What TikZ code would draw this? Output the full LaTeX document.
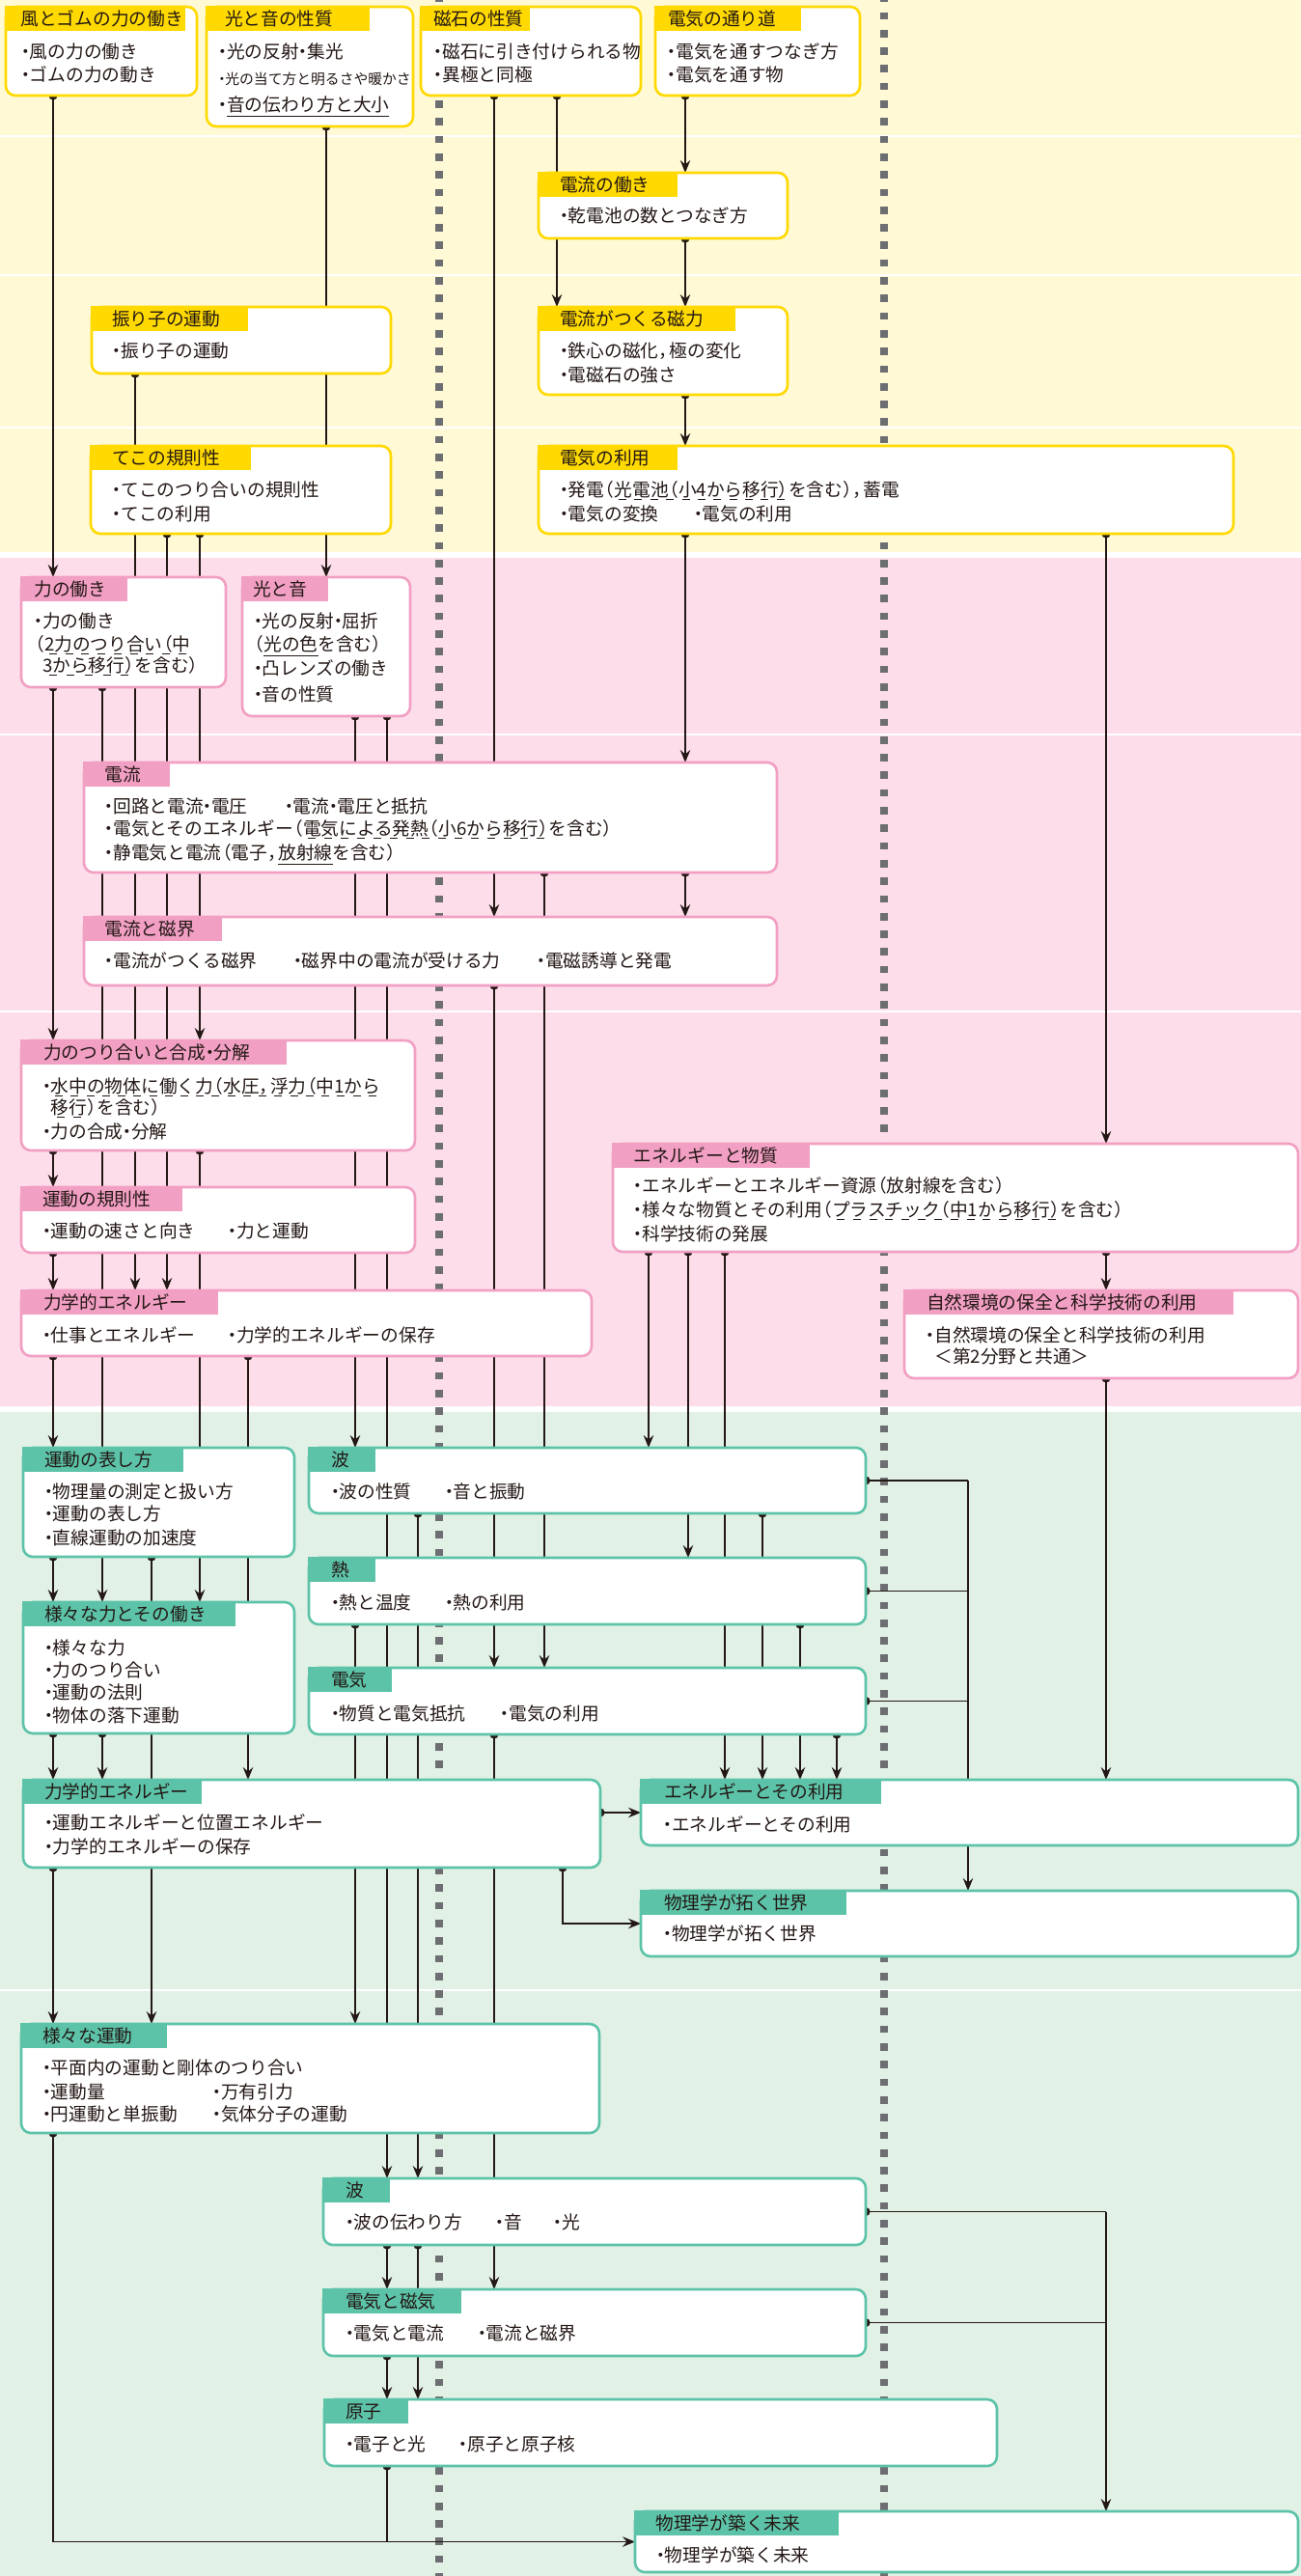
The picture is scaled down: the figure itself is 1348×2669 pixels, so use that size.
\documentclass[tikz,border=0pt]{standalone}
\usepackage{fontspec}
\setmainfont{Noto Sans CJK JP}
\usetikzlibrary{arrows.meta}
\pgfdeclarelayer{bgl}
\pgfdeclarelayer{cnl}
\pgfsetlayers{bgl,cnl,main}
\definecolor{ink}{HTML}{231815}
\definecolor{ybg}{HTML}{FFF9D6}
\definecolor{yel}{HTML}{FFD900}
\definecolor{pbg}{HTML}{FCDDE9}
\definecolor{pnk}{HTML}{F29FC4}
\definecolor{gbg}{HTML}{E1F1E6}
\definecolor{grn}{HTML}{5CC3A8}
\definecolor{dgray}{HTML}{6D6E71}
\newsavebox\iulbox
\newcommand\idul[1]{\sbox\iulbox{#1}\rlap{\hbox to \wd\iulbox{\xleaders\hbox to 16pt{\hss\vrule width 8pt height -3.2pt depth 4.3pt\hss}\hfill}}\usebox\iulbox}
\newcommand\isul[1]{\sbox\iulbox{#1}\rlap{\vrule width \wd\iulbox height -4.6pt depth 5.8pt}\usebox\iulbox}
\newcommand\ibu{\makebox[0.45em][c]{・}}
\newcommand\ilp{\makebox[0.55em][r]{（}}
\newcommand\irp{\makebox[0.55em][l]{）}}
\newcommand\icm{\makebox[0.6em][l]{，}}
\tikzset{
 bx/.style={draw=#1, line width=2.6pt, fill=white, rounded corners=10pt, inner sep=0pt, outer sep=0pt, anchor=north west},
 tx/.style={inner sep=0pt, outer sep=0pt, anchor=base west, text=ink, font=\fontsize{18.7}{22}\selectfont},
 sm/.style={tx, font=\fontsize{14.8}{18}\selectfont},
 cn/.style={draw=ink, line width=1.2pt, -{Stealth[length=13pt, width=10.5pt, inset=4.5pt]}},
 cl/.style={draw=ink, line width=1.2pt},
 dsh/.style={draw=dgray, line width=7.7pt, dash pattern=on 7.7pt off 10.6pt},
 sepl/.style={draw=white, line width=2.5pt},
}
\newcommand\bx[7]{%
 \node[bx=#2, minimum width={#5pt-#3pt}, minimum height={#6pt-#4pt}] (#1) at (#3,#4) {};
 \fill[#2] ({#3-1.3},{#4-1.3}) rectangle (#7,{#4+25});}
\newcommand\ttl[4]{\node[tx] (#1t) at (#2,{#3+19.5}) {#4};}
\newcommand\vd[3]{%
 \fill[ink] (#1,0 |- #2.south) circle[radius=4.6];
 \draw[cn] (#1,0 |- #2.south) -- (#1,0 |- #3.north);}
\begin{document}
\begin{tikzpicture}[x=1pt,y=-1pt]
\useasboundingbox (0,0) rectangle (1348,2669);
\begin{pgfonlayer}{bgl}
\fill[white] (0,0) rectangle (1348,2669);
\fill[ybg] (0,0) rectangle (1348,572);
\fill[pbg] (0,578) rectangle (1348,1457);
\fill[gbg] (0,1463) rectangle (1348,2669);
\foreach \yy in {141,285,443,761,1048,2062} {\draw[sepl] (0,\yy) -- (1348,\yy);}
\draw[dsh] (455,-5.8) -- (455,2680);
\draw[dsh] (916,-5.8) -- (916,2680);
\end{pgfonlayer}
% yellow boxes
\bx{A}{yel}{6}{7}{204}{99}{192}
\bx{B}{yel}{214}{7}{428}{131}{383}
\bx{C}{yel}{436}{7}{664}{99}{549}
\bx{D}{yel}{679}{7}{891}{99}{830}
\bx{E}{yel}{558}{179}{816}{247}{702}
\bx{F}{yel}{558}{318}{816}{409}{762}
\bx{G}{yel}{95}{318}{405}{387}{257}
\bx{H}{yel}{94}{462}{405}{553}{260}
\bx{I}{yel}{558}{462}{1278}{553}{702}
% pink boxes
\bx{J}{pnk}{22}{598}{234}{712}{132}
\bx{K}{pnk}{251}{598}{425}{742}{340}
\bx{L}{pnk}{87}{790}{805}{904}{176}
\bx{M}{pnk}{87}{950}{805}{1021}{230}
\bx{N}{pnk}{22}{1078}{430}{1192}{297}
\bx{O}{pnk}{22}{1230}{430}{1298}{189}
\bx{P}{pnk}{22}{1337}{613}{1405}{226}
\bx{Y}{pnk}{635}{1185}{1345}{1297}{839}
\bx{Z}{pnk}{937}{1337}{1345}{1428}{1278}
% green boxes
\bx{Q}{grn}{24}{1500}{305}{1613}{190}
\bx{R}{grn}{24}{1660}{305}{1796}{244}
\bx{S}{grn}{24}{1844}{622}{1935}{209}
\bx{T}{grn}{22}{2097}{621}{2210}{173}
\bx{W1}{grn}{320}{1500}{897}{1568}{389}
\bx{W2}{grn}{320}{1614}{897}{1683}{389}
\bx{W3}{grn}{320}{1728}{897}{1797}{406}
\bx{U}{grn}{664}{1844}{1345}{1912}{913}
\bx{V}{grn}{664}{1959}{1345}{2027}{877}
\bx{W4}{grn}{335}{2257}{897}{2326}{404}
\bx{X2}{grn}{335}{2372}{897}{2441}{478}
\bx{AB}{grn}{336}{2486}{1033}{2555}{423}
\bx{AA}{grn}{658}{2602}{1345}{2665}{869}
% titles
\ttl{A}{21.5}{7}{風とゴムの力の働き}
\ttl{B}{233}{7}{光と音の性質}
\ttl{C}{449}{7}{磁石の性質}
\ttl{D}{692}{7}{電気の通り道}
\ttl{E}{580}{179}{電流の働き}
\ttl{F}{580}{318}{電流がつくる磁力}
\ttl{G}{116}{318}{振り子の運動}
\ttl{H}{116}{462}{てこの規則性}
\ttl{I}{580}{462}{電気の利用}
\ttl{J}{35.5}{598}{力の働き}
\ttl{K}{262}{598}{光と音}
\ttl{L}{108.5}{790}{電流}
\ttl{M}{108.5}{950}{電流と磁界}
\ttl{N}{45}{1078}{力のつり合いと合成\ibu 分解}
\ttl{O}{44}{1230}{運動の規則性}
\ttl{P}{45}{1337}{力学的エネルギー}
\ttl{Y}{656.5}{1185}{エネルギーと物質}
\ttl{Z}{960}{1337}{自然環境の保全と科学技術の利用}
\ttl{Q}{46}{1500}{運動の表し方}
\ttl{R}{46}{1660}{様々な力とその働き}
\ttl{S}{46}{1844}{力学的エネルギー}
\ttl{T}{44}{2097}{様々な運動}
\ttl{W1}{343}{1500}{波}
\ttl{W2}{343}{1614}{熱}
\ttl{W3}{343}{1728}{電気}
\ttl{U}{688}{1844}{エネルギーとその利用}
\ttl{V}{688}{1959}{物理学が拓く世界}
\ttl{W4}{358}{2257}{波}
\ttl{X2}{358}{2372}{電気と磁気}
\ttl{AB}{358}{2486}{原子}
\ttl{AA}{679.5}{2602}{物理学が築く未来}
% body texts
\node[tx] (A1) at (22.5,60) {\ibu 風の力の働き};
\node[tx] (A2) at (22.5,84) {\ibu ゴムの力の動き};
\node[tx] (B1) at (226.7,60) {\ibu 光の反射\ibu 集光};
\node[sm] (B2) at (226.7,87.6) {\ibu 光の当て方と明るさや暖かさ};
\node[tx] (B3) at (226.7,115) {\ibu\isul{音の伝わり方と大小}};
\node[tx] (C1) at (450,60) {\ibu 磁石に引き付けられる物};
\node[tx] (C2) at (450,84) {\ibu 異極と同極};
\node[tx] (D1) at (692,60) {\ibu 電気を通すつなぎ方};
\node[tx] (D2) at (692,84) {\ibu 電気を通す物};
\node[tx] (E1) at (580.5,230) {\ibu 乾電池の数とつなぎ方};
\node[tx] (F1) at (580.5,370) {\ibu 鉄心の磁化\icm 極の変化};
\node[tx] (F2) at (580.5,395) {\ibu 電磁石の強さ};
\node[tx] (G1) at (117,370) {\ibu 振り子の運動};
\node[tx] (H1) at (117,514) {\ibu てこのつり合いの規則性};
\node[tx] (H2) at (117,539) {\ibu てこの利用};
\node[tx] (I1) at (580.5,514) {\ibu 発電\ilp\idul{光電池\ilp 小4から移行\irp}を含む\irp\icm 蓄電};
\node[tx] (I2) at (580.5,539) {\ibu 電気の変換};
\node[tx] (I3) at (719.2,539) {\ibu 電気の利用};
\node[tx] (J1) at (35.8,650) {\ibu 力の働き};
\node[tx] (J2) at (35.8,674) {\ilp\idul{2力のつり合い\ilp 中}};
\node[tx] (J3) at (35.8,696) {\hspace*{0.45em}\idul{3から移行\irp}を含む\irp};
\node[tx] (K1) at (263.2,650) {\ibu 光の反射\ibu 屈折};
\node[tx] (K2) at (263.2,674) {\ilp\isul{光の色}を含む\irp};
\node[tx] (K3) at (263.2,699) {\ibu 凸レンズの働き};
\node[tx] (K4) at (263.2,726) {\ibu 音の性質};
\node[tx] (L1) at (108.9,842) {\ibu 回路と電流\ibu 電圧};
\node[tx] (L1b) at (295.5,842) {\ibu 電流\ibu 電圧と抵抗};
\node[tx] (L2) at (108.9,865) {\ibu 電気とそのエネルギー\ilp\idul{電気による発熱\ilp 小6から移行\irp}を含む\irp};
\node[tx] (L3) at (108.9,890) {\ibu 静電気と電流\ilp 電子\icm\isul{放射線}を含む\irp};
\node[tx] (M1) at (108.9,1002) {\ibu 電流がつくる磁界};
\node[tx] (M2) at (304.5,1002) {\ibu 磁界中の電流が受ける力};
\node[tx] (M3) at (556.8,1002) {\ibu 電磁誘導と発電};
\node[tx] (N1) at (44.4,1132) {\ibu\idul{水中の物体に働く力\ilp 水圧\icm 浮力\ilp 中1から}};
\node[tx] (N2) at (44.4,1154) {\hspace*{0.45em}\idul{移行}\irp を含む\irp};
\node[tx] (N3) at (44.4,1179) {\ibu 力の合成\ibu 分解};
\node[tx] (O1) at (44.4,1282) {\ibu 運動の速さと向き};
\node[tx] (O2) at (236.6,1282) {\ibu 力と運動};
\node[tx] (P1) at (44.4,1390) {\ibu 仕事とエネルギー};
\node[tx] (P2) at (236.6,1390) {\ibu 力学的エネルギーの保存};
\node[tx] (Y1) at (657,1235) {\ibu エネルギーとエネルギー資源\ilp 放射線を含む\irp};
\node[tx] (Y2) at (657,1260) {\ibu 様々な物質とその利用\ilp\idul{プラスチック\ilp 中1から移行\irp}を含む\irp};
\node[tx] (Y3) at (657,1285) {\ibu 科学技術の発展};
\node[tx] (Z1) at (960,1390) {\ibu 自然環境の保全と科学技術の利用};
\node[tx] (Z2) at (960,1412) {\hspace*{0.45em}＜第2分野と共通＞};
\node[tx] (Q1) at (46.5,1552) {\ibu 物理量の測定と扱い方};
\node[tx] (Q2) at (46.5,1575) {\ibu 運動の表し方};
\node[tx] (Q3) at (46.5,1600) {\ibu 直線運動の加速度};
\node[tx] (R1) at (46.5,1714) {\ibu 様々な力};
\node[tx] (R2) at (46.5,1737) {\ibu 力のつり合い};
\node[tx] (R3) at (46.5,1760) {\ibu 運動の法則};
\node[tx] (R4) at (46.5,1784) {\ibu 物体の落下運動};
\node[tx] (S1) at (46.5,1895) {\ibu 運動エネルギーと位置エネルギー};
\node[tx] (S2) at (46.5,1920) {\ibu 力学的エネルギーの保存};
\node[tx] (T1) at (44.4,2149) {\ibu 平面内の運動と剛体のつり合い};
\node[tx] (T2) at (44.4,2174) {\ibu 運動量};
\node[tx] (T2b) at (220.6,2174) {\ibu 万有引力};
\node[tx] (T3) at (44.4,2197) {\ibu 円運動と単振動};
\node[tx] (T3b) at (220.6,2197) {\ibu 気体分子の運動};
\node[tx] (W1a) at (343.2,1552) {\ibu 波の性質};
\node[tx] (W1b) at (461.4,1552) {\ibu 音と振動};
\node[tx] (W2a) at (343.2,1667) {\ibu 熱と温度};
\node[tx] (W2b) at (461.4,1667) {\ibu 熱の利用};
\node[tx] (W3a) at (343.2,1782) {\ibu 物質と電気抵抗};
\node[tx] (W3b) at (519,1782) {\ibu 電気の利用};
\node[tx] (U1) at (687.8,1897) {\ibu エネルギーとその利用};
\node[tx] (V1) at (687.8,2010) {\ibu 物理学が拓く世界};
\node[tx] (W4a) at (358.2,2309) {\ibu 波の伝わり方};
\node[tx] (W4b) at (513.8,2309) {\ibu 音};
\node[tx] (W4c) at (574,2309) {\ibu 光};
\node[tx] (X2a) at (358.2,2424) {\ibu 電気と電流};
\node[tx] (X2b) at (495.4,2424) {\ibu 電流と磁界};
\node[tx] (ABa) at (358.2,2539) {\ibu 電子と光};
\node[tx] (ABb) at (476,2539) {\ibu 原子と原子核};
\node[tx] (AAa) at (680.5,2654) {\ibu 物理学が築く未来};
% connectors
\begin{pgfonlayer}{cnl}
\vd{55}{A}{J}
\vd{338}{B}{K}
\vd{512}{C}{M}
\vd{577}{C}{F}
\vd{710}{D}{E}
\vd{710}{E}{F}
\vd{140}{G}{P}
\vd{710}{F}{I}
\vd{173}{H}{P}
\vd{207}{H}{N}
\vd{710}{I}{L}
\vd{1146}{I}{Y}
\vd{55}{J}{N}
\vd{106}{J}{R}
\vd{368}{K}{W1}
\vd{401}{K}{W4}
\vd{564}{L}{W3}
\vd{710}{L}{M}
\vd{512}{M}{W3}
\vd{55}{N}{O}
\vd{207}{N}{R}
\vd{55}{O}{P}
\vd{55}{P}{Q}
\vd{257}{P}{S}
\vd{1146}{Y}{Z}
\vd{672}{Y}{W1}
\vd{713}{Y}{W2}
\vd{751}{Y}{U}
\vd{1146}{Z}{U}
\vd{55}{Q}{R}
\vd{157}{Q}{T}
\vd{55}{R}{S}
\vd{106}{R}{S}
\vd{433}{W1}{W4}
\vd{790}{W1}{U}
\vd{368}{W2}{T}
\vd{829}{W2}{U}
\vd{512}{W3}{X2}
\vd{867}{W3}{U}
\vd{55}{S}{T}
\vd{401}{W4}{X2}
\vd{433}{W4}{AB}
\vd{401}{X2}{AB}
\fill[ink] (S.east |- U.west) circle[radius=4.6];
\draw[cn] (S.east |- U.west) -- (U.west);
\fill[ink] (583,0 |- S.south) circle[radius=4.6];
\draw[cn] (583,0 |- S.south) |- (V.west);
\foreach \nm in {W1,W2,W3}{\fill[ink] (\nm.east) circle[radius=4.6]; \draw[cl] (\nm.east) -- (1003,0 |- \nm.east);}
\draw[cn] (1003,0 |- W1.east) -- (1003,0 |- V.north);
\foreach \nm in {W4,X2}{\fill[ink] (\nm.east) circle[radius=4.6]; \draw[cl] (\nm.east) -- (1146,0 |- \nm.east);}
\draw[cn] (1146,0 |- W4.east) -- (1146,0 |- AA.north);
\fill[ink] (55,0 |- T.south) circle[radius=4.6];
\draw[cn] (55,0 |- T.south) |- (AA.west);
\fill[ink] (401,0 |- AB.south) circle[radius=4.6];
\draw[cl] (401,0 |- AB.south) -- (401,0 |- AA.west);
\end{pgfonlayer}
\end{tikzpicture}
\end{document}
